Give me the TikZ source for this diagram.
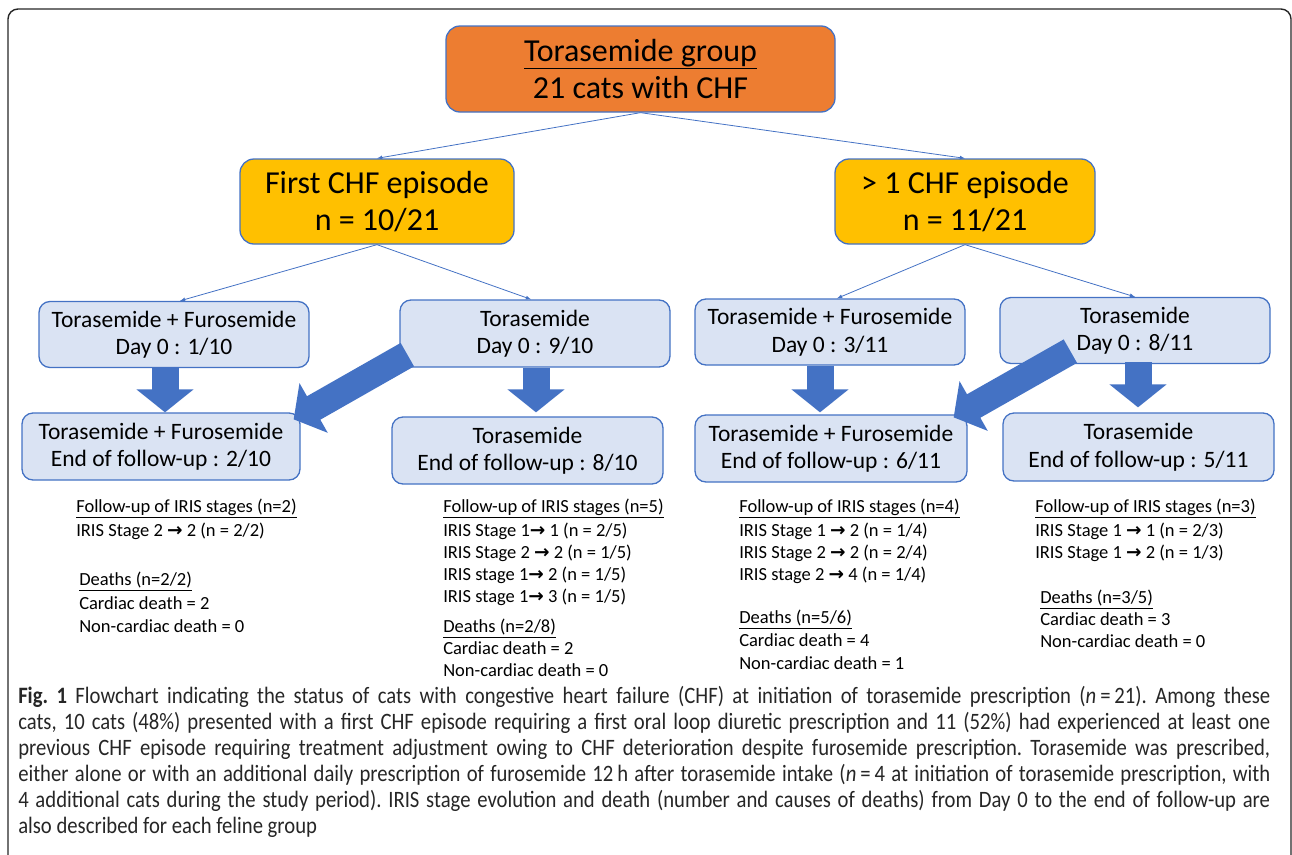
\documentclass[tikz,border=0pt]{standalone}
\usepackage{fontspec}
\setmainfont{Carlito}
\newfontfamily\capfont[FakeStretch=0.88]{Carlito}
\newfontfamily\arrowfont{DejaVu Sans}
\usetikzlibrary{arrows,arrows.meta,calc}
\definecolor{boxline}{HTML}{4472C4}
\definecolor{toporange}{HTML}{ED7D31}
\definecolor{epigold}{HTML}{FFC000}
\definecolor{boxfill}{HTML}{DAE3F3}
\newcommand{\irisarrow}{{\arrowfont\bfseries\char"2192}}
\tikzset{every picture/.style={line width=0.5pt}}
\tikzset{
  flowbox/.style={draw=boxline,line width=1.3pt,rounded corners=11pt,align=center,inner sep=0pt},
  topbox/.style={flowbox,fill=toporange,font=\fontsize{32}{37}\selectfont,minimum width=389pt,minimum height=86pt,rounded corners=14pt},
  epibox/.style={flowbox,fill=epigold,font=\fontsize{32}{37}\selectfont,minimum height=85pt,rounded corners=14pt},
  treatbox/.style={flowbox,fill=boxfill,font=\fontsize{23.5}{27.5}\selectfont,minimum width=270pt,minimum height=66pt},
  link/.style={->,>=latex,color=boxline,line width=0.8pt},
  fat/.style={draw=boxline,line width=27pt,-{Triangle[length=23pt,width=56pt]}},
  notes/.style={anchor=north west,align=left,inner sep=0pt,font=\fontsize{18.5}{22}\selectfont},
  frame/.style={draw=black!85,line width=1.4pt,rounded corners=10pt}
}
\begin{document}
\begin{tikzpicture}[x=1pt,y=-1pt]
\useasboundingbox (0,0) rectangle (1292,854);
\draw[frame] (8,9) rectangle (1291,874);
% top of the chart
\node[topbox] (top) at (640.5,69) {\underline{Torasemide group}\\21 cats with CHF};
\node[epibox,minimum width=274pt] (first) at (377,201.5) {First CHF episode\\n = 10/21};
\node[epibox,minimum width=260pt] (more) at (965,201.5) {> 1 CHF episode\\n = 11/21};
% treatment at day 0
\node[treatbox] (dayTF1) at (174,334.5) {Torasemide + Furosemide\\Day 0 : 1/10};
\node[treatbox,minimum height=67pt] (dayT1) at (535,333.5) {Torasemide\\Day 0 : 9/10};
\node[treatbox] (dayTF2) at (830,332) {Torasemide + Furosemide\\Day 0 : 3/11};
\node[treatbox] (dayT2) at (1135,330.5) {Torasemide\\Day 0 : 8/11};
% treatment at the end of follow-up
\node[treatbox,minimum width=278pt,minimum height=67pt] (endTF1) at (161,446.5) {Torasemide + Furosemide\\End of follow-up : 2/10};
\node[treatbox,minimum width=271pt,minimum height=67pt] (endT1) at (527.5,450.5) {Torasemide\\End of follow-up : 8/10};
\node[treatbox,minimum width=272pt,minimum height=67pt] (endTF2) at (831,448.5) {Torasemide + Furosemide\\End of follow-up : 6/11};
\node[treatbox,minimum width=271pt,minimum height=68pt] (endT2) at (1138.5,447) {Torasemide\\End of follow-up : 5/11};
\path[link]
(top.south) edge (first.north)
(top.south) edge (more.north)
(first.south) edge ($(dayTF1.north)+(6,0)$)
(first.south) edge ($(dayT1.north)+(-4,0)$)
(more.south) edge ($(dayTF2.north)+(7,0)$)
(more.south) edge (dayT2.north);
\draw[fat] ($(dayTF1.south)+(-9,0)$) -- ($(endTF1.north)+(4,0)$);
\draw[fat] ($(dayT1.south)+(1,0)$) -- ($(endT1.north)+(8.5,-4)$);
\draw[fat] ($(dayTF2.south)+(-10,0)$) -- ($(endTF2.north)+(-11,-2)$);
\draw[fat] ($(dayT2.south)+(3,-2)$) -- ($(endT2.north)+(-0.5,-5)$);
\draw[fat] ($(dayT1.south west)+(8,-13)$) -- ($(endTF1.north east)+(-7,7)$);
\draw[fat] ($(dayT2.south west)+(71,-13)$) -- ($(endTF2.north east)+(-14,3)$);
% IRIS stages and deaths
\node[notes] (iris1) at (76,499) {\underline{Follow-up of IRIS stages (n=2)}\\[2pt]IRIS Stage 2 \irisarrow{} 2 (n = 2/2)};
\node[notes] (death1) at (79,572) {\underline{Deaths (n=2/2)}\\[2pt]Cardiac death = 2\\[1pt]Non-cardiac death = 0};
\node[notes] (iris2) at (443,499) {\underline{Follow-up of IRIS stages (n=5)}\\[2pt]IRIS Stage 1\irisarrow{} 1 (n = 2/5)\\IRIS Stage 2 \irisarrow{} 2 (n = 1/5)\\IRIS stage 1\irisarrow{} 2 (n = 1/5)\\IRIS stage 1\irisarrow{} 3 (n = 1/5)};
\node[notes] (death2) at (443,619) {\underline{Deaths (n=2/8)}\\Cardiac death = 2\\Non-cardiac death = 0};
\node[notes] (iris3) at (739,499) {\underline{Follow-up of IRIS stages (n=4)}\\[2pt]IRIS Stage 1 \irisarrow{} 2 (n = 1/4)\\IRIS Stage 2 \irisarrow{} 2 (n = 2/4)\\IRIS stage 2 \irisarrow{} 4 (n = 1/4)};
\node[notes] (death3) at (739,610) {\underline{Deaths (n=5/6)}\\[1pt]Cardiac death = 4\\[1pt]Non-cardiac death = 1};
\node[notes] (iris4) at (1035,499) {\underline{Follow-up of IRIS stages (n=3)}\\[2pt]IRIS Stage 1 \irisarrow{} 1 (n = 2/3)\\IRIS Stage 1 \irisarrow{} 2 (n = 1/3)};
\node[notes] (death4) at (1040,590) {\underline{Deaths (n=3/5)}\\Cardiac death = 3\\Non-cardiac death = 0};
% caption
\node[anchor=north west,inner sep=0pt,text width=1252pt,align=justify,text=black!85,
  font=\capfont\fontsize{23.5}{26}\selectfont] (caption) at (18,686)
{\frenchspacing\hyphenpenalty=10000\exhyphenpenalty=10000
{\bfseries Fig. 1} Flowchart indicating the status of cats with congestive heart failure (CHF) at initiation of torasemide prescription (\textit{n}\,=\,21). Among these\linebreak
cats, 10 cats (48\%) presented with a first CHF episode requiring a first oral loop diuretic prescription and 11 (52\%) had experienced at least one\linebreak
previous CHF episode requiring treatment adjustment owing to CHF deterioration despite furosemide prescription. Torasemide was prescribed,\linebreak
either alone or with an additional daily prescription of furosemide 12\,h after torasemide intake (\textit{n}\,=\,4 at initiation of torasemide prescription, with\linebreak
4 additional cats during the study period). IRIS stage evolution and death (number and causes of deaths) from Day 0 to the end of follow-up are\linebreak
also described for each feline group};
\end{tikzpicture}
\end{document}
